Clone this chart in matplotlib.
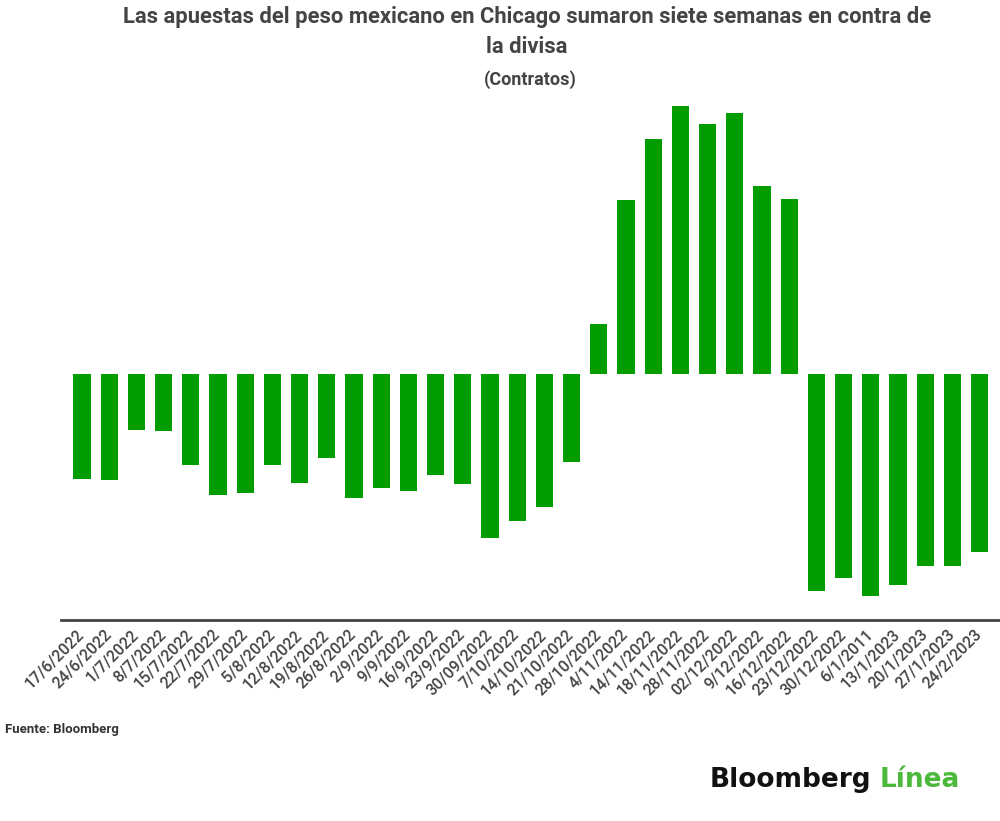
import matplotlib.pyplot as plt

# weekly dates as written on the chart
fechas = ['17/6/2022', '24/6/2022', '1/7/2022', '8/7/2022', '15/7/2022',
          '22/7/2022', '29/7/2022', '5/8/2022', '12/8/2022', '19/8/2022',
          '26/8/2022', '2/9/2022', '9/9/2022', '16/9/2022', '23/9/2022',
          '30/09/2022', '7/10/2022', '14/10/2022', '21/10/2022', '28/10/2022',
          '4/11/2022', '14/11/2022', '18/11/2022', '28/11/2022', '02/12/2022',
          '9/12/2022', '16/12/2022', '23/12/2022', '30/12/2022', '6/1/2011',
          '13/1/2023', '20/1/2023', '27/1/2023', '24/2/2023']

# net contracts (no scale shown in the original, relative values)
contratos = [-104, -105.5, -55.5, -56.5, -90.5, -120.5, -118, -90.5, -108.5, -84,
             -123, -113.5, -116.5, -100, -109.5, -163, -146.5, -132.5, -88,
             50, 174, 235, 268, 250.5, 261, 188.7, 175.7,
             -216.7, -203.5, -221, -210, -191.5, -191.5, -177.5]

verde = '#009c00'

fig = plt.figure(figsize=(10, 8.21), dpi=100)
ax = fig.add_axes([0.061, 1 - 620 / 821, 0.939, (620 - 95) / 821])

x = range(len(fechas))
ax.bar(x, contratos, width=0.63, color=verde)

ax.set_xlim(-0.77, 33.75)
ax.set_ylim(-245.5, 279.5)
ax.set_xticks(list(x))
ax.set_xticklabels(fechas, rotation=45, ha='right', va='center',
                   rotation_mode='anchor', fontsize=11.5, fontweight='medium',
                   color='#444444', family='Roboto')
ax.tick_params(axis='x', length=0, pad=9)
ax.set_yticks([])
for s in ['top', 'right', 'left']:
    ax.spines[s].set_visible(False)
ax.spines['bottom'].set_color('#444444')
ax.spines['bottom'].set_linewidth(2)

fig.text(0.527, 1 - 17 / 821,
         'Las apuestas del peso mexicano en Chicago sumaron siete semanas en contra de',
         ha='center', va='center', fontsize=15.8, fontweight='bold',
         color='#444444', family='Roboto')
fig.text(0.527, 1 - 47 / 821, 'la divisa', ha='center', va='center',
         fontsize=15.8, fontweight='bold', color='#444444', family='Roboto')
fig.text(0.53, 1 - 80 / 821, '(Contratos)', ha='center', va='center',
         fontsize=13, fontweight='bold', color='#444444', family='Roboto')

fig.text(0.005, 1 - 729 / 821, 'Fuente: Bloomberg', ha='left', va='center',
         fontsize=9.5, fontweight='bold', color='#333333', family='Roboto')

fig.text(0.71, 1 - 780 / 821, 'Bloomberg', ha='left', va='center',
         fontsize=19, fontweight='bold', color='#111111', family='DejaVu Sans')
fig.text(0.88, 1 - 780 / 821, 'Línea', ha='left', va='center',
         fontsize=19, fontweight='bold', color='#4cb83c', family='DejaVu Sans')

fig.savefig('out.png', dpi=100)
